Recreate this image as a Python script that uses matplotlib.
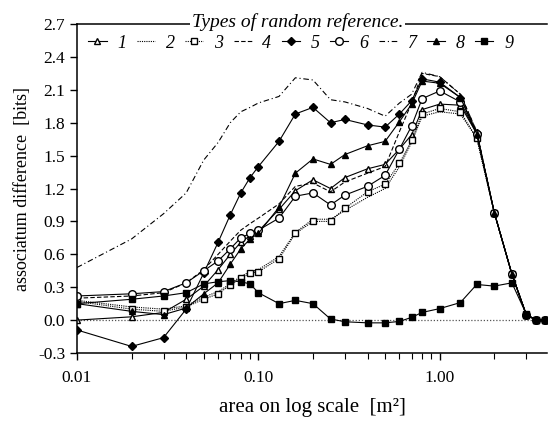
import numpy as np
import matplotlib
matplotlib.use('Agg')
import matplotlib.pyplot as plt
from matplotlib.ticker import FixedLocator, FixedFormatter, NullFormatter

plt.rcParams['font.family'] = ['Liberation Serif', 'DejaVu Serif']

# area [m^2] at which every reference type was evaluated
area = [0.01, 0.02, 0.03, 0.04, 0.05, 0.06, 0.07, 0.08, 0.09, 0.10,
        0.13, 0.16, 0.20, 0.25, 0.30, 0.40, 0.50, 0.60, 0.70, 0.80,
        1.00, 1.30, 1.60, 2.00, 2.50, 3.00, 3.40, 3.80]

ref1 = [0.00, 0.03, 0.07, 0.19, 0.31, 0.46, 0.60, 0.71, 0.77, 0.81,
        1.01, 1.18, 1.28, 1.20, 1.30, 1.38, 1.42, 1.56, 1.69, 1.92,
        1.97, 1.96, 1.70, 0.98, 0.42, 0.05, 0.00, 0.00]
ref2 = [0.18, 0.12, 0.10, 0.13, 0.21, 0.26, 0.33, 0.40, 0.44, 0.46,
        0.58, 0.80, 0.92, 0.92, 1.00, 1.12, 1.20, 1.40, 1.62, 1.86,
        1.90, 1.88, 1.66, 0.98, 0.42, 0.05, 0.00, 0.00]
ref3 = [0.17, 0.10, 0.08, 0.12, 0.19, 0.24, 0.32, 0.38, 0.43, 0.44,
        0.56, 0.79, 0.90, 0.90, 1.02, 1.17, 1.24, 1.43, 1.64, 1.88,
        1.93, 1.90, 1.66, 0.98, 0.42, 0.05, 0.00, 0.00]
ref4 = [0.20, 0.22, 0.25, 0.34, 0.46, 0.60, 0.72, 0.82, 0.88, 0.93,
        1.06, 1.22, 1.25, 1.17, 1.26, 1.34, 1.40, 1.72, 1.98, 2.25,
        2.22, 2.06, 1.72, 0.98, 0.42, 0.05, 0.00, 0.00]
ref5 = [-0.09, -0.24, -0.16, 0.10, 0.43, 0.71, 0.96, 1.16, 1.30, 1.40,
        1.63, 1.88, 1.94, 1.80, 1.83, 1.78, 1.76, 1.88, 2.00, 2.20,
        2.17, 2.03, 1.71, 0.98, 0.42, 0.05, 0.00, 0.00]
ref6 = [0.22, 0.24, 0.26, 0.34, 0.45, 0.54, 0.65, 0.75, 0.79, 0.82,
        0.93, 1.13, 1.16, 1.05, 1.14, 1.22, 1.32, 1.56, 1.77, 2.02,
        2.09, 1.99, 1.70, 0.98, 0.42, 0.05, 0.00, 0.00]
ref7 = [0.48, 0.74, 0.97, 1.16, 1.46, 1.62, 1.80, 1.90, 1.94, 1.98,
        2.04, 2.21, 2.19, 2.01, 1.99, 1.93, 1.86, 1.98, 2.06, 2.26,
        2.22, 2.06, 1.72, 0.98, 0.42, 0.05, 0.00, 0.00]
ref8 = [0.15, 0.08, 0.05, 0.11, 0.24, 0.34, 0.51, 0.65, 0.74, 0.79,
        1.03, 1.34, 1.47, 1.42, 1.51, 1.59, 1.63, 1.81, 1.97, 2.18,
        2.16, 2.03, 1.70, 0.98, 0.42, 0.05, 0.00, 0.00]
ref9 = [0.15, 0.19, 0.22, 0.25, 0.33, 0.35, 0.36, 0.35, 0.33, 0.25,
        0.15, 0.18, 0.15, 0.01, -0.015, -0.025, -0.025, -0.012, 0.025, 0.07,
        0.105, 0.16, 0.325, 0.31, 0.34, 0.055, 0.00, 0.00]

labels = ['1', '2', '3', '4', '5', '6', '7', '8', '9']
yticks = [-0.3, 0.0, 0.3, 0.6, 0.9, 1.2, 1.5, 1.8, 2.1, 2.4, 2.7]
xticks = [0.01, 0.10, 1.00]

fig = plt.figure(figsize=(5.48, 4.22), dpi=100)
ax = fig.add_axes([0.1405, 0.1635, 0.8575, 0.7795])

ax.axhline(0, color='#555555', lw=0.9, ls=(0, (1, 1.5)), zorder=1)

lw = 0.8
ms = 4.5
ax.plot(area, ref1, color='k', lw=lw, marker='^', ms=ms, mfc='white', mec='k', label=labels[0])
ax.plot(area, ref2, color='k', lw=lw, ls=(0, (1, 1)), label=labels[1])
ax.plot(area, ref3, color='k', lw=lw, ls=(0, (1, 1)), marker='s', ms=ms + 0.5, mfc='white', mec='k', label=labels[2])
ax.plot(area, ref4, color='k', lw=lw, ls=(0, (4, 2)), label=labels[3])
ax.plot(area, ref5, color='k', lw=lw, marker='D', ms=ms - 0.5, mfc='k', mec='k', label=labels[4])
ax.plot(area, ref6, color='k', lw=lw, marker='o', ms=ms + 1, mfc='white', mec='k', label=labels[5])
ax.plot(area, ref7, color='k', lw=lw, ls=(0, (5, 2.5, 1, 2.5)), label=labels[6])
ax.plot(area, ref8, color='k', lw=lw, marker='^', ms=ms + 0.5, mfc='k', mec='k', label=labels[7])
ax.plot(area, ref9, color='k', lw=lw, marker='s', ms=ms, mfc='k', mec='k', label=labels[8])

ax.set_xscale('log')
ax.set_xlim(0.01, 3.9)
ax.set_ylim(-0.3, 2.7)
ax.xaxis.set_major_locator(FixedLocator(xticks))
ax.xaxis.set_major_formatter(FixedFormatter(['%.2f' % v for v in xticks]))
ax.xaxis.set_minor_formatter(NullFormatter())
ax.set_yticks(yticks)
ax.set_yticklabels(['%.1f' % v for v in yticks])
ax.tick_params(axis='both', which='major', direction='out', length=5, width=1, labelsize=12.5)
ax.tick_params(axis='x', which='minor', direction='out', length=4, width=0.8)
ax.tick_params(axis='x', pad=7)
ax.spines['right'].set_visible(False)
for s in ['left', 'bottom', 'top']:
    ax.spines[s].set_linewidth(1.1)

ax.set_ylabel('associatum difference  [bits]', fontsize=13, labelpad=5)
ax.set_xlabel('area on log scale  [m\u00b2]', fontsize=15, labelpad=9)

fig.text(0.543, 0.948, 'Types of random reference.', fontsize=14, style='italic',
         ha='center', va='center', bbox=dict(facecolor='white', edgecolor='none', pad=1.5))

leg = ax.legend(ncol=9, loc='center', bbox_to_anchor=(0.549, 0.898),
                bbox_transform=fig.transFigure, frameon=False,
                handlelength=1.0, handletextpad=0.6, columnspacing=0.58,
                borderaxespad=0, borderpad=0, prop={'size': 13, 'style': 'italic'})

fig.savefig('out.png', dpi=100)
